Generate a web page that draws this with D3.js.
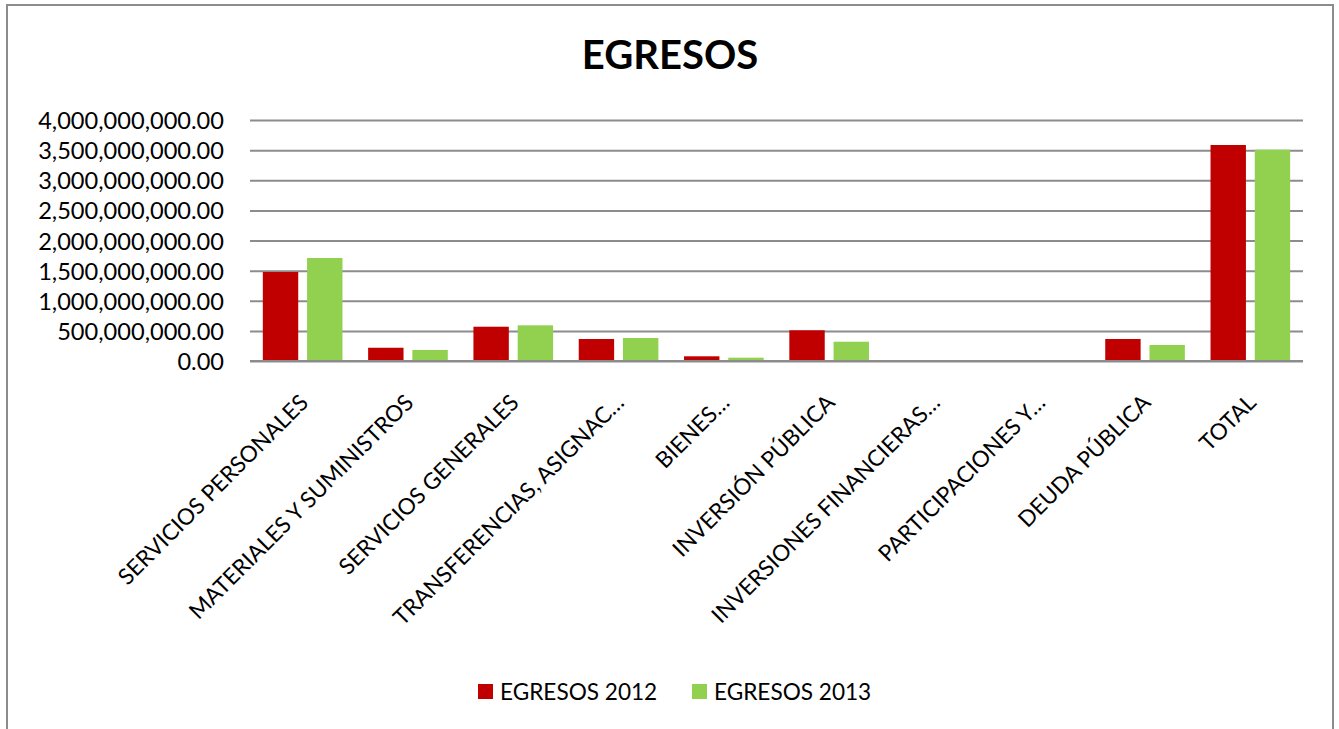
<!DOCTYPE html>
<html>
<head>
<meta charset="utf-8">
<script src="https://cdn.jsdelivr.net/npm/d3@7"></script>
<style>
  html, body { margin: 0; padding: 0; background: #fff; }
  svg { display: block; }
  text { font-family: Lato, "Open Sans", sans-serif; fill: #000; }
</style>
</head>
<body>
<svg id="chart" width="1339" height="729"></svg>
<script>
const title = "EGRESOS";
const categories = [
  "SERVICIOS PERSONALES",
  "MATERIALES Y SUMINISTROS",
  "SERVICIOS GENERALES",
  "TRANSFERENCIAS, ASIGNAC…",
  "BIENES…",
  "INVERSIÓN PÚBLICA",
  "INVERSIONES FINANCIERAS…",
  "PARTICIPACIONES Y…",
  "DEUDA PÚBLICA",
  "TOTAL"
];
const seriesNames = ["EGRESOS 2012", "EGRESOS 2013"];
const egresos2012 = [1477e6, 220e6, 569e6, 365e6, 78e6, 510e6, 0, 0, 365e6, 3585e6];
const egresos2013 = [1710e6, 183e6, 592e6, 382e6, 55e6, 320e6, 0, 0, 266e6, 3507e6];
const yTicks = [0, 5e8, 1e9, 1.5e9, 2e9, 2.5e9, 3e9, 3.5e9, 4e9];
const colors = ["#C00000", "#92D050"];

const seriesValues = [egresos2012, egresos2013];
const data = categories.map((c, i) => ({
  cat: c,
  vals: seriesNames.map((s, j) => ({ series: s, idx: j, value: seriesValues[j][i] }))
}));

const svg = d3.select("#chart");

// outer border
svg.append("rect")
  .attr("x", 7).attr("y", 5)
  .attr("width", 1326).attr("height", 760)
  .attr("fill", "#fff")
  .attr("stroke", "#8c8c8c")
  .attr("stroke-width", 2);

const plot = { left: 250, right: 1303, top: 120, bottom: 361 };

const x0 = d3.scaleBand().domain(categories).range([plot.left, plot.right]).padding(0);
const x1 = d3.scaleBand().domain(seriesNames).range([0, x0.bandwidth()])
  .paddingInner(0.2).paddingOuter(0.29);
const y = d3.scaleLinear().domain([0, 4e9]).range([plot.bottom, plot.top]);

// title
svg.append("text")
  .attr("x", 670).attr("y", 69)
  .attr("text-anchor", "middle")
  .style("font-weight", "bold")
  .style("font-size", "40px")
  .text(title);

// y axis with gridlines
const fmt = d3.format(",.2f");
const yAxis = svg.append("g")
  .attr("transform", `translate(${plot.left},0)`)
  .call(d3.axisLeft(y).tickValues(yTicks).tickFormat(fmt)
    .tickSize(-(plot.right - plot.left)).tickPadding(26));
yAxis.select(".domain").remove();
yAxis.selectAll(".tick line").attr("stroke", "#8c8c8c").attr("stroke-width", 2);
yAxis.selectAll(".tick text").style("font-size", "23.6px").attr("dy", "0.36em");

// bars
const groups = svg.append("g").selectAll("g")
  .data(data).join("g")
  .attr("transform", d => `translate(${x0(d.cat)},0)`);
groups.selectAll("rect")
  .data(d => d.vals).join("rect")
  .attr("x", d => x1(d.series))
  .attr("width", x1.bandwidth())
  .attr("y", d => y(d.value))
  .attr("height", d => y(0) - y(d.value))
  .attr("fill", d => colors[d.idx]);

// x axis baseline
svg.append("line")
  .attr("x1", plot.left).attr("x2", plot.right)
  .attr("y1", y(0)).attr("y2", y(0))
  .attr("stroke", "#8c8c8c").attr("stroke-width", 2);

// category labels
svg.append("g").selectAll("text")
  .data(categories).join("text")
  .attr("transform", d => `translate(${x0(d) + x0.bandwidth() / 2 + 7},${plot.bottom + 43}) rotate(-45)`)
  .attr("text-anchor", "end")
  .style("font-size", "22.5px")
  .text(d => d);

// legend
const legendX = [478, 692];
const leg = svg.append("g").selectAll("g")
  .data(seriesNames).join("g")
  .attr("transform", (d, i) => `translate(${legendX[i]},684)`);
leg.append("rect").attr("width", 15).attr("height", 15).attr("fill", (d, i) => colors[i]);
leg.append("text").attr("x", 22).attr("y", 15.5).style("font-size", "22.6px").text(d => d);
</script>
</body>
</html>
